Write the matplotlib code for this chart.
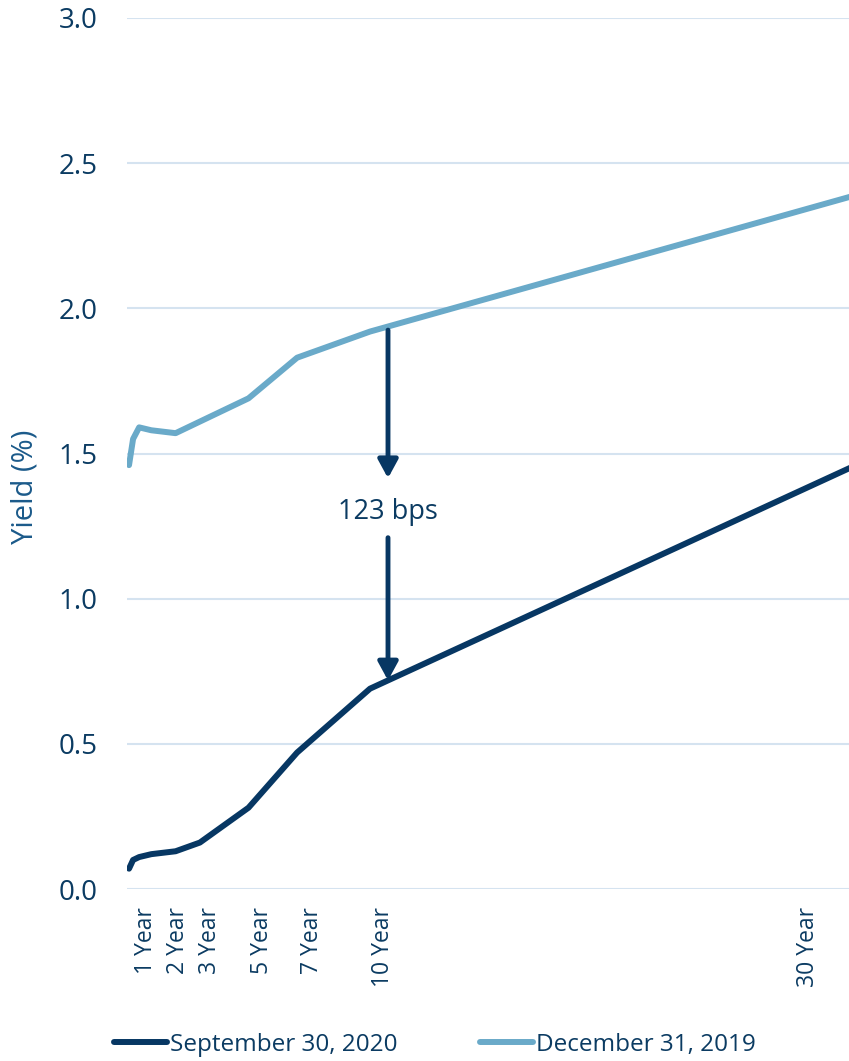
import matplotlib
matplotlib.use('Agg')
import matplotlib.pyplot as plt

plt.rcParams['font.family'] = ['Open Sans', 'DejaVu Sans']

# 收益率曲线：期限（年）与收益率（%）
maturities = [1 / 12, 0.25, 0.5, 1, 2, 3, 5, 7, 10, 30]
yield_sep_2020 = [0.07, 0.10, 0.11, 0.12, 0.13, 0.16, 0.28, 0.47, 0.69, 1.46]
yield_dec_2019 = [1.46, 1.55, 1.59, 1.58, 1.57, 1.61, 1.69, 1.83, 1.92, 2.39]
series_names = ['September 30, 2020', 'December 31, 2019']
tick_labels = ['1 Year', '2 Year', '3 Year', '5 Year', '7 Year', '10 Year', '30 Year']
y_ticks = [0.0, 0.5, 1.0, 1.5, 2.0, 2.5, 3.0]

NAVY = '#073763'
LIGHT = '#6aaac9'
TEXT = '#0b3b62'
GRID = '#d5e3f0'

fig = plt.figure(figsize=(8.49, 10.61), dpi=100)
ax = fig.add_axes([127 / 849, 1 - 889 / 1061, 722 / 849, 871 / 1061])

ax.plot(maturities, yield_sep_2020, color=NAVY, lw=4.3, solid_capstyle='round',
        solid_joinstyle='round', label=series_names[0], zorder=3)
ax.plot(maturities, yield_dec_2019, color=LIGHT, lw=4.3, solid_capstyle='round',
        solid_joinstyle='round', label=series_names[1], zorder=3)

ax.set_xlim(0, 29.71)
ax.set_ylim(0, 3.0)
ax.set_yticks(y_ticks)
ax.set_yticklabels(['%.1f' % v for v in y_ticks])
ax.grid(axis='y', color=GRID, lw=1.5)
ax.set_axisbelow(True)
for s in ax.spines.values():
    s.set_visible(False)

# x轴标签位置（手动摆放）
ax.set_xticks([0.77, 2.11, 3.42, 5.54, 7.60, 10.53, 28.02])
ax.set_xticklabels(tick_labels, rotation=90, va='top', ha='center')
ax.tick_params(axis='x', length=0, pad=13, labelsize=16.5, labelcolor=TEXT)
ax.tick_params(axis='y', length=0, pad=21, labelsize=20, labelcolor=TEXT)

ax.set_ylabel('Yield (%)', fontsize=21, color='#1b5a8a', va='center')
ax.yaxis.set_label_coords(-0.141, 0.4615)

# 10年期利差
i10 = maturities.index(10)
spread_bps = round((yield_dec_2019[i10] - yield_sep_2020[i10]) * 100)
ax_x = 10.74
line_at_x = yield_sep_2020[i10] + (yield_sep_2020[-1] - yield_sep_2020[i10]) * (ax_x - 10) / 20
label_y = 1.30
arrow_kw = dict(arrowstyle='-|>,head_width=0.3,head_length=0.55', color=NAVY,
                lw=3.5, mutation_scale=20, shrinkA=0, shrinkB=0)
ax.annotate('', xy=(ax_x, label_y + 0.115), xytext=(ax_x, yield_dec_2019[i10] + 0.005),
            arrowprops=arrow_kw, zorder=4)
ax.annotate('', xy=(ax_x, line_at_x), xytext=(ax_x, label_y - 0.09),
            arrowprops=arrow_kw, zorder=4)
ax.text(ax_x, label_y, '%d bps' % spread_bps, ha='center', va='center',
        fontsize=19.5, color=TEXT)

fig.legend(loc='center', bbox_to_anchor=(0.512, 1 - 1045 / 1061), ncol=2, frameon=False,
           fontsize=17.5, handlelength=2.2, handletextpad=0.1, columnspacing=3.4,
           labelcolor=TEXT)

fig.savefig('out.png', dpi=100)
